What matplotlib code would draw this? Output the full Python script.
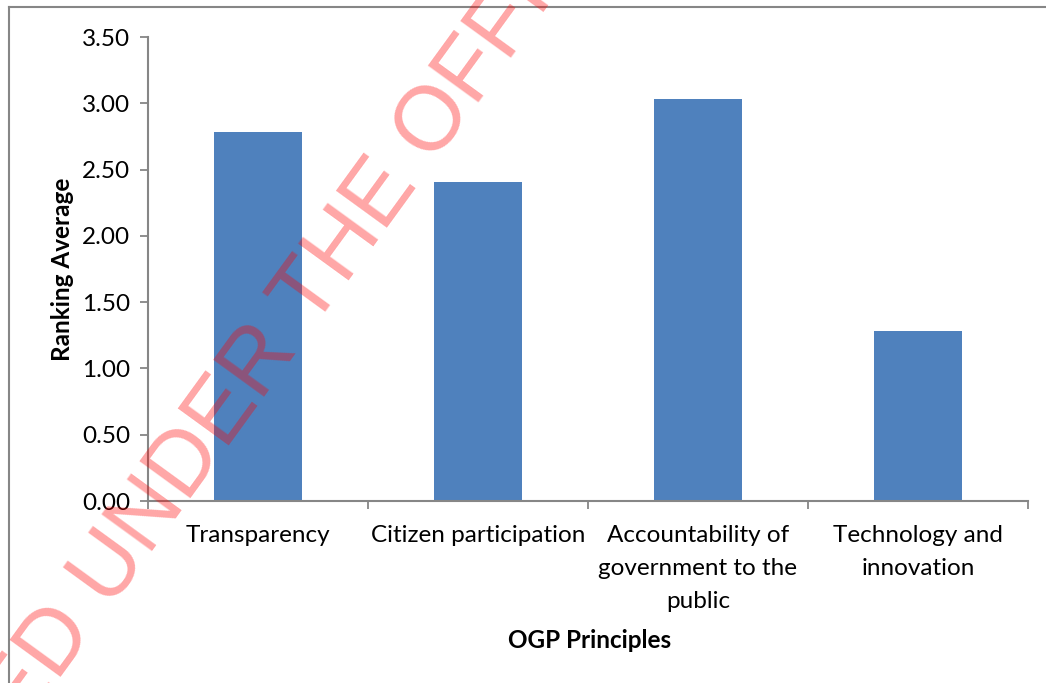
import matplotlib.pyplot as plt
from matplotlib.lines import Line2D
import numpy as np

categories = ['Transparency', 'Citizen participation',
              'Accountability of\ngovernment to the\npublic', 'Technology and\ninnovation']
ranking_avg = [2.78, 2.41, 3.03, 1.28]
y_ticks = [0.0, 0.5, 1.0, 1.5, 2.0, 2.5, 3.0, 3.5]

plt.rcParams.update({'font.family': 'Lato', 'font.size': 17.5})
W, H = 1046, 683
fig = plt.figure(figsize=(W/100, H/100), dpi=100, facecolor='white')
ax = fig.add_axes([148/W, 182/H, 880/W, 464/H])

grey = '#868686'
x = np.arange(len(categories))
ax.bar(x, ranking_avg, width=0.4, color='#4F81BD', zorder=2)

ax.set_xlim(-0.5, 3.5)
ax.set_ylim(0, 3.5)
ax.set_yticks(y_ticks, [f'{v:.2f}' for v in y_ticks])
ax.set_xticks(np.arange(-0.5, 4, 1), [''] * 5)
ax.set_xticks(x, categories, minor=True)
ax.tick_params(axis='x', which='minor', length=0, pad=17)
ax.tick_params(axis='both', which='major', length=6, width=1.3, color=grey, direction='out')
ax.tick_params(axis='y', pad=7)
for lbl in ax.get_xticklabels(minor=True):
    lbl.set_linespacing(1.72)
for s in ['top', 'right']:
    ax.spines[s].set_visible(False)
for s in ['left', 'bottom']:
    ax.spines[s].set_color(grey)
    ax.spines[s].set_linewidth(1.5)

fig.text(62/W, 1 - 269/H, 'Ranking Average', rotation=90, ha='center', va='center',
         fontsize=17.5, fontweight='bold')
fig.text(590/W, 1 - 641/H, 'OGP Principles', ha='center', va='center',
         fontsize=17.5, fontweight='bold')

# outer chart frame
fig.add_artist(Line2D([8.5/W, 8.5/W], [0, 1 - 6.5/H], transform=fig.transFigure, color=grey, lw=1.5))
fig.add_artist(Line2D([8.5/W, 1], [1 - 6.5/H, 1 - 6.5/H], transform=fig.transFigure, color=grey, lw=1.5))

# watermark
ang = 54
u = np.array([np.cos(np.radians(ang)), np.sin(np.radians(ang))])
anchor = np.array([433, 519])
wm = dict(rotation=ang, rotation_mode='anchor', va='baseline', fontsize=65,
          family='Liberation Sans', color='red', alpha=0.35, zorder=10)
fig.text(anchor[0]/W, anchor[1]/H, 'OFFICIAL INFORMATION ACT', ha='left', **wm)
p = anchor - 25 * u
fig.text(p[0]/W, p[1]/H, 'RELEASED UNDER THE', ha='right', **wm)

fig.savefig('out.png', dpi=100, facecolor='white')
